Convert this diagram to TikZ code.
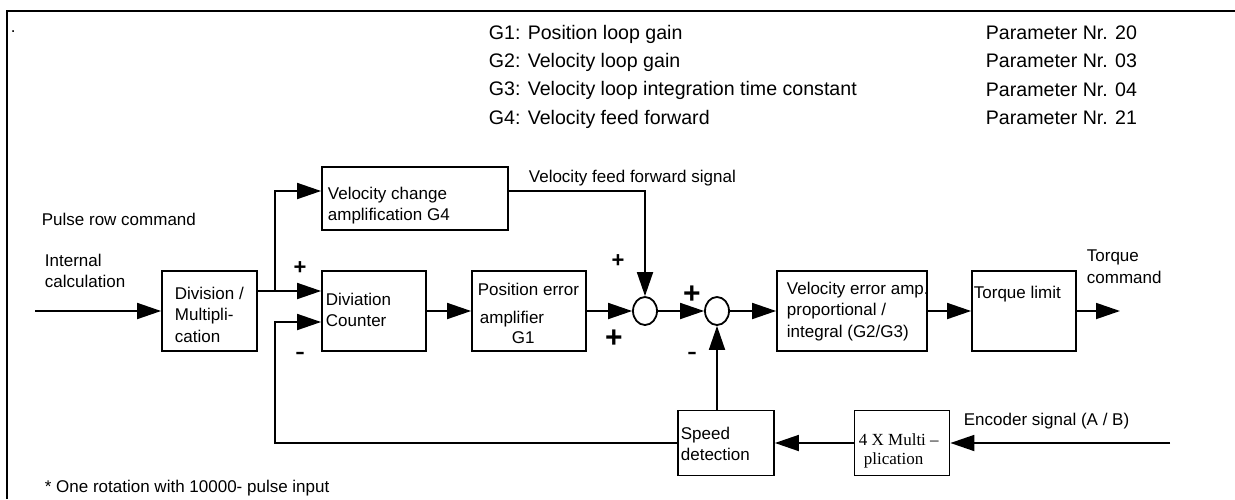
\documentclass[tikz,border=0pt]{standalone}
\usepackage{fontspec}
\setmainfont{Liberation Sans}
\newfontfamily\timesfont{Liberation Serif}
\usetikzlibrary{arrows.meta,shapes.geometric}

\begin{document}
\begin{tikzpicture}[x=1pt, y=-1pt, inner sep=0pt, line width=1.8pt,
    >={Triangle[length=24pt,width=16pt]},
    blk/.style={draw},
    txt/.style={align=left, font=\fontsize{17}{21.5}\selectfont},
    leg/.style={align=left, font=\fontsize{19.6}{28.3}\selectfont},
    junc/.style={draw, ellipse, minimum width=24pt, minimum height=28pt},
    plus/.style={font=\fontsize{22}{22}\selectfont\bfseries},
    bigplus/.style={font=\fontsize{30}{30}\selectfont\bfseries},
    minus/.style={font=\fontsize{30}{30}\selectfont}]
    \useasboundingbox (0,0) rectangle (1235,499);
    \draw[line width=1.6pt] (7,499) -- (7,11) -- (1235,11);

    \node[txt, anchor=base west] (dot) at (10,32) {.};
    \node[leg, anchor=north west] (gains) at (488,24) {G1: Position loop gain\\G2: Velocity loop gain\\G3: Velocity loop integration time constant\\G4: Velocity feed forward};
    \node[leg, anchor=north west] (params) at (985,25) {Parameter Nr. 20\\Parameter Nr. 03\\Parameter Nr. 04\\Parameter Nr. 21};

    \node[blk, minimum width=186, minimum height=63] (vcg) at (415,198.5) {};
    \node[blk, minimum width=95, minimum height=80] (div) at (209.5,311) {};
    \node[blk, minimum width=104, minimum height=80] (dc) at (374,311) {};
    \node[blk, minimum width=114, minimum height=80] (pe) at (529,311) {};
    \node[junc] (s1) at (645,311) {};
    \node[junc] (s2) at (717,311) {};
    \node[blk, minimum width=150, minimum height=80] (vamp) at (852,311) {};
    \node[blk, minimum width=104, minimum height=80] (tl) at (1024,311) {};
    \node[blk, minimum width=96, minimum height=65] (spd) at (726,443) {};
    \node[blk, minimum width=95, minimum height=65] (mul) at (902,443) {};

    \node[txt, anchor=north west] (vcg-t) at (327,186) {Velocity change\\amplification G4};
    \node[txt, anchor=north west] (div-t) at (174,286) {Division /\\Multipli-\\cation};
    \node[txt, anchor=north west] (dc-t) at (325,292) {Diviation\\Counter};
    \node[txt, anchor=north west] (pe-t) at (477,282) {Position error\\[7pt]\hspace*{2pt}amplifier\\[-2pt]\hspace*{34pt}G1};
    \node[txt, anchor=north west] (vamp-t) at (786,281) {Velocity error amp.\\proportional /\\integral (G2/G3)};
    \node[txt, anchor=base west] (tl-t) at (973,298) {Torque limit};
    \node[txt, anchor=north west] (spd-t) at (680,426) {Speed\\detection};
    \node[txt, anchor=north west, font=\fontsize{17}{19}\timesfont] (mul-t) at (858,433) {4 X Multi –\\\hspace*{5pt}plication};

    \node[txt, anchor=base west] (pulse) at (41,225) {Pulse row command};
    \node[txt, anchor=north west] (intern) at (44,253) {Internal\\calculation};
    \node[txt, anchor=base west] (vff) at (528,182) {Velocity feed forward signal};
    \node[txt, anchor=north west] (torque) at (1086,249) {Torque\\command};
    \node[txt, anchor=base west] (encoder) at (963,425) {Encoder signal (A / B)};
    \node[txt, anchor=base west] (note) at (44,492) {* One rotation with 10000- pulse input};

    \node[plus] (p1) at (300,268) {+};
    \node[minus] (m1) at (300,356.5) {-};
    \node[plus] (p2) at (618,261) {+};
    \node[bigplus] (p3) at (614,339) {+};
    \node[bigplus] (p4) at (692,295) {+};
    \node[minus] (m2) at (692,356.5) {-};

    \coordinate (in) at (35,311);
    \coordinate (br) at (275,291);
    \coordinate (out) at (1120,311);
    \coordinate (enc) at (1170,443);

    \draw[->] (in) -- (div);
    \draw[->] ([yshift=20pt]div.east) -- ([yshift=20pt]dc.west);
    \draw[->] (br) |- ([yshift=7.5pt]vcg.west);
    \draw[->] (dc) -- (pe);
    \draw[->] (pe) -- (s1);
    \draw[->] (s1) -- (s2);
    \draw[->] (s2) -- (vamp);
    \draw[->] (vamp) -- (tl);
    \draw[->] (tl) -- (out);
    \draw[->] ([yshift=7.5pt]vcg.east) -| (s1.north);
    \draw[->] (spd.north -| s2) -- (s2.south);
    \draw[->] (enc) -- (mul);
    \draw[->] (mul) -- (spd);
    \draw[->] (spd.west) -- (spd.west -| br) |- ([yshift=-11pt]dc.west);
  \end{tikzpicture}
\end{document}
